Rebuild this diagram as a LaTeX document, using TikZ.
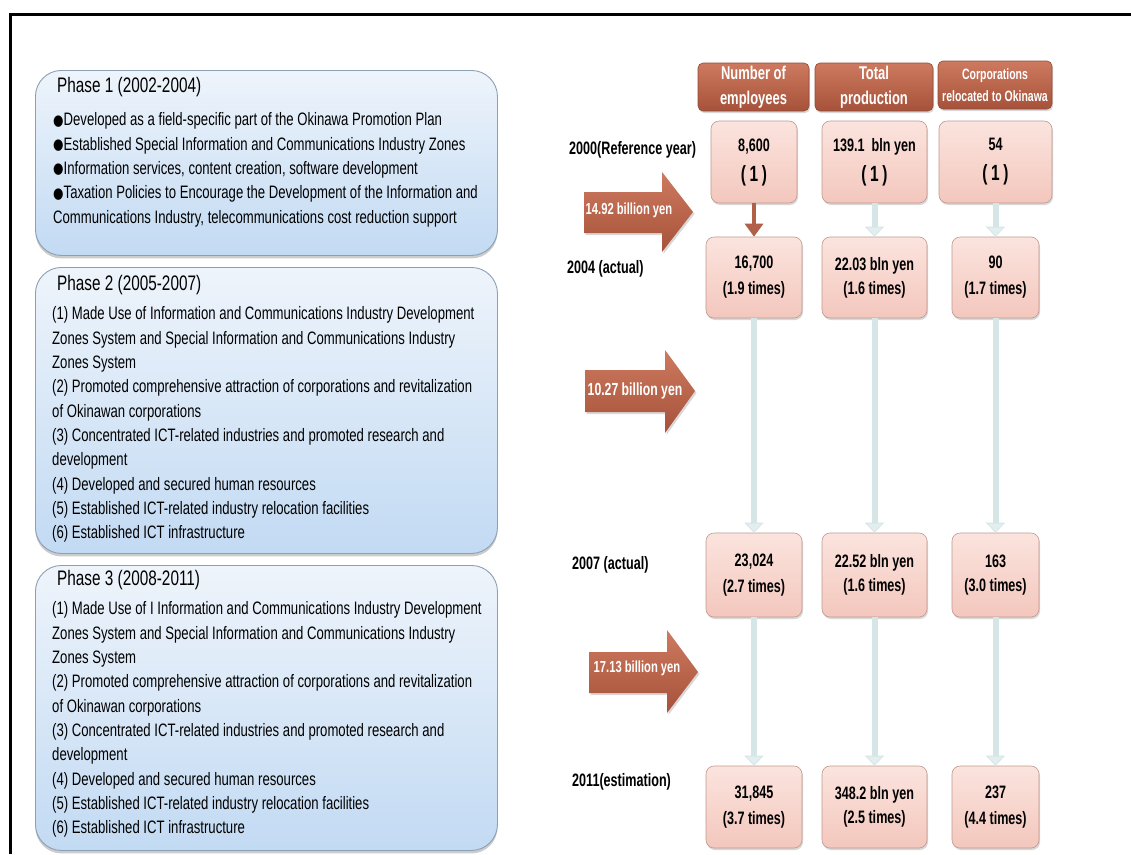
\documentclass[tikz,border=0pt]{standalone}
\usepackage{fontspec}
\setmainfont{Liberation Sans}[FakeStretch=0.73]
\newfontfamily\nb{Liberation Sans}[FakeStretch=0.70]
\newfontfamily\dotfont{DejaVu Sans}[FakeStretch=0.80]
\usetikzlibrary{shadows,arrows.meta}

\definecolor{phTop}{RGB}{238,244,251}
\definecolor{phBot}{RGB}{194,218,243}
\definecolor{phEdge}{RGB}{140,160,180}
\definecolor{hdTop}{RGB}{206,122,96}
\definecolor{hdBot}{RGB}{166,82,58}
\definecolor{hdEdge}{RGB}{146,74,54}
\definecolor{vTop}{RGB}{251,228,222}
\definecolor{vBot}{RGB}{243,199,189}
\definecolor{vEdge}{RGB}{192,152,142}
\definecolor{flow}{RGB}{214,230,231}
\definecolor{flowHead}{RGB}{226,238,239}
\definecolor{brownLine}{RGB}{176,96,72}

\newcommand\bodyfont{\fontsize{18}{24.35}\selectfont}
\newcommand\titlefont{\fontsize{21}{25}\selectfont}
\newcommand\valfont{\nb\bfseries\fontsize{18}{26}\selectfont}
\newcommand\onefont{\nb\bfseries\fontsize{22}{26}\selectfont}
\newcommand\blt{{\dotfont\fontsize{15}{15}\selectfont\raisebox{0.5pt}{●}}}

\begin{document}
\begin{tikzpicture}[x=1pt,y=-1pt,
  phasebox/.style={draw=phEdge, line width=0.9pt, rounded corners=26pt,
    top color=phTop, bottom color=phBot, anchor=north west, inner sep=0pt,
    drop shadow={opacity=0.4, shadow xshift=0pt, shadow yshift=-3pt}},
  phasetitle/.style={anchor=base west, inner sep=0pt, font=\titlefont},
  phasebody/.style={anchor=north west, inner sep=0pt, align=left, font=\bodyfont},
  headbox/.style={draw=hdEdge, line width=0.6pt, rounded corners=5pt,
    top color=hdTop, bottom color=hdBot, text=white, align=center, inner sep=0pt,
    minimum height=48pt,
    drop shadow={opacity=0.3, shadow xshift=1pt, shadow yshift=-2pt}},
  valbox/.style={draw=vEdge, line width=0.6pt, rounded corners=8pt,
    top color=vTop, bottom color=vBot, align=center, inner sep=0pt,
    font=\valfont,
    drop shadow={opacity=0.3, shadow xshift=1pt, shadow yshift=-2pt}},
  yearlabel/.style={anchor=base west, inner sep=0pt, font=\nb\bfseries\fontsize{18}{20}\selectfont},
  flowarrow/.style={draw=flow, line width=6pt,
    -{Triangle[width=19pt,length=10pt,fill=flowHead,color=flow,line width=0.8pt]}},
  brownarrow/.style={draw=brownLine, line width=4.5pt,
    -{Triangle[width=18pt,length=13pt]}},
  bigarrow/.style={top color=hdTop, bottom color=hdBot,
    drop shadow={opacity=0.3, shadow xshift=1.5pt, shadow yshift=-2pt}},
  arrowtext/.style={text=white, inner sep=0pt, font=\nb\bfseries\fontsize{16}{18}\selectfont}
]
\useasboundingbox (0,0) rectangle (1131,854);
\fill[white] (0,0) rectangle (1131,854);

% frame
\draw[line width=3pt] (1131,14) -- (10,14) -- (10,854);

% ---------- phase boxes ----------
\node[phasebox, minimum width=462pt, minimum height=185pt] (ph1) at (35,70) {};
\node[phasebox, minimum width=462pt, minimum height=286pt] (ph2) at (35,267) {};
\node[phasebox, minimum width=462pt, minimum height=285pt] (ph3) at (35,565) {};

\node[phasetitle] (t1) at (57,92.5) {Phase 1 (2002-2004)};
\node[phasebody] (b1) at (53,112.5) {%
\blt Developed as a field-specific part of the Okinawa Promotion Plan\\
\blt Established Special Information and Communications Industry Zones\\
\blt Information services, content creation, software development\\
\blt Taxation Policies to Encourage the Development of the Information and\\
Communications Industry, telecommunications cost reduction support};

\node[phasetitle] (t2) at (57,290.5) {Phase 2 (2005-2007)};
\node[phasebody] (b2) at (52,306.5) {%
(1) Made Use of Information and Communications Industry Development\\
Zones System and Special Information and Communications Industry\\
Zones System\\
(2) Promoted comprehensive attraction of corporations and revitalization\\
of Okinawan corporations\\
(3) Concentrated ICT-related industries and promoted research and\\
development\\
(4) Developed and secured human resources\\
(5) Established ICT-related industry relocation facilities\\
(6) Established ICT infrastructure};

\node[phasetitle] (t3) at (57,585) {Phase 3 (2008-2011)};
\node[phasebody] (b3) at (52,601.5) {%
(1) Made Use of I Information and Communications Industry Development\\
Zones System and Special Information and Communications Industry\\
Zones System\\
(2) Promoted comprehensive attraction of corporations and revitalization\\
of Okinawan corporations\\
(3) Concentrated ICT-related industries and promoted research and\\
development\\
(4) Developed and secured human resources\\
(5) Established ICT-related industry relocation facilities\\
(6) Established ICT infrastructure};

% ---------- budget arrows ----------
\path[bigarrow] (584,192) -- (662,192) -- (662,172) -- (693,212) -- (662,252)
  -- (662,233) -- (584,233) -- cycle;
\node[arrowtext] (a1) at (629,210) {14.92 billion yen};
\path[bigarrow] (585,370) -- (665,370) -- (665,350) -- (695,391) -- (665,433)
  -- (665,412) -- (585,412) -- cycle;
\node[arrowtext, font=\nb\bfseries\fontsize{17.5}{19}\selectfont] (a2) at (635,391) {10.27 billion yen};
\path[bigarrow] (589,652) -- (667,652) -- (667,630) -- (698,672) -- (667,713)
  -- (667,693) -- (589,693) -- cycle;
\node[arrowtext] (a3) at (637,668) {17.13 billion yen};

% ---------- column headers ----------
\node[headbox, minimum width=111pt, font=\nb\bfseries\fontsize{18.5}{25}\selectfont] (h1) at (753.5,87) {Number of\\employees};
\node[headbox, minimum width=118pt, font=\nb\bfseries\fontsize{18.5}{25}\selectfont] (h2) at (874,87) {Total\\production};
\node[headbox, minimum width=114pt, font=\nb\bfseries\fontsize{15}{22}\selectfont] (h3) at (995,85) {Corporations\\relocated to Okinawa};

% ---------- year labels ----------
\node[yearlabel] (y1) at (569,154.5) {2000(Reference year)};
\node[yearlabel] (y2) at (567,273.5) {2004 (actual)};
\node[yearlabel] (y3) at (572,569.5) {2007 (actual)};
\node[yearlabel] (y4) at (572,786.5) {2011(estimation)};

% ---------- value boxes ----------
\node[valbox, minimum width=86pt,  minimum height=82pt] (v11) at (754,162) {8,600\\[4pt]{\onefont(\,1\,)}};
\node[valbox, minimum width=105pt, minimum height=82pt] (v12) at (874.5,162) {139.1\ \ bln yen\\[4pt]{\onefont(\,1\,)}};
\node[valbox, minimum width=113pt, minimum height=82pt] (v13) at (995.5,162) {54\\[4pt]{\onefont(\,1\,)}};

\node[valbox, minimum width=96pt,  minimum height=81pt] (v21) at (754,277.5) {16,700\\(1.9 times)};
\node[valbox, minimum width=105pt, minimum height=81pt] (v22) at (874.5,277.5) {22.03 bln yen\\[-2pt](1.6 times)};
\node[valbox, minimum width=87pt,  minimum height=81pt] (v23) at (995.5,277.5) {90\\(1.7 times)};

\node[valbox, minimum width=96pt,  minimum height=84pt] (v31) at (754,575) {23,024\\(2.7 times)};
\node[valbox, minimum width=105pt, minimum height=84pt] (v32) at (874.5,575) {22.52 bln yen\\[-2pt](1.6 times)};
\node[valbox, minimum width=87pt,  minimum height=84pt] (v33) at (995.5,575) {163\\[-2pt](3.0 times)};

\node[valbox, minimum width=96pt,  minimum height=82pt] (v41) at (754,807) {31,845\\(3.7 times)};
\node[valbox, minimum width=105pt, minimum height=82pt] (v42) at (874.5,807) {348.2 bln yen\\[-2pt](2.5 times)};
\node[valbox, minimum width=87pt,  minimum height=82pt] (v43) at (995.5,807) {237\\(4.4 times)};

% ---------- growth connectors ----------
\draw[brownarrow] (v11.south) -- (v21.north);
\draw[flowarrow] (v12.south) -- (v22.north);
\draw[flowarrow] (v13.south) -- (v23.north);
\draw[flowarrow] (v21.south) -- (v31.north);
\draw[flowarrow] (v22.south) -- (v32.north);
\draw[flowarrow] (v23.south) -- (v33.north);
\draw[flowarrow] (v31.south) -- (v41.north);
\draw[flowarrow] (v32.south) -- (v42.north);
\draw[flowarrow] (v33.south) -- (v43.north);
\end{tikzpicture}
\end{document}
